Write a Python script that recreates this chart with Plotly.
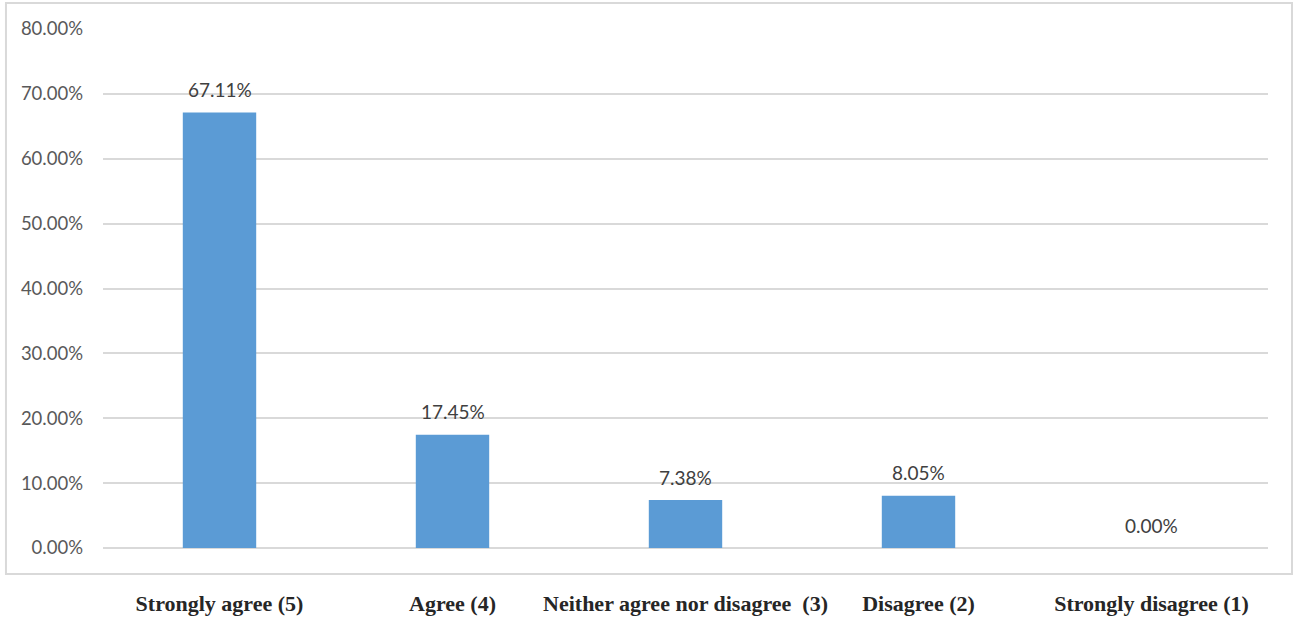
import plotly.graph_objects as go

categories = ["Strongly agree (5)", "Agree (4)", "Neither agree nor disagree  (3)",
              "Disagree (2)", "Strongly disagree (1)"]
values = [67.11, 17.45, 7.38, 8.05, 0.00]
y_ticks = [0, 10, 20, 30, 40, 50, 60, 70, 80]
y_tick_labels = [f"{v:.2f}%" for v in y_ticks]

fig = go.Figure()
fig.add_trace(go.Bar(
    x=categories, y=values,
    marker=dict(color="#5b9bd5", line=dict(width=0)),
    width=0.315,
    hoverinfo="skip",
))

for c, v in zip(categories, values):
    fig.add_annotation(x=c, y=v, text=f"{v:.2f}%", showarrow=False,
                       yanchor="middle", yshift=23,
                       font=dict(family="Lato", size=19, color="#404040"))

fig.add_shape(type="rect", xref="paper", yref="paper",
              x0=-0.0833, x1=1.0206, y0=-0.0501, y1=1.050,
              line=dict(color="#d9d9d9", width=2), fillcolor="rgba(0,0,0,0)",
              layer="below")

fig.update_layout(
    width=1298, height=619,
    margin=dict(l=103, r=30, t=29, b=71),
    paper_bgcolor="white", plot_bgcolor="white",
    showlegend=False,
    xaxis=dict(
        showgrid=False, showline=False, zeroline=False, ticks="",
        ticklabelstandoff=40, automargin=False,
        tickfont=dict(family="Liberation Serif", size=22, color="#262626", weight="bold"),
        range=[-0.5, 4.5],
    ),
    yaxis=dict(
        range=[0, 80], tickvals=y_ticks, ticktext=y_tick_labels,
        showgrid=True, gridcolor="#d9d9d9", gridwidth=1.5,
        zeroline=True, zerolinecolor="#d9d9d9", zerolinewidth=1.5,
        showline=False, ticks="", ticklabelstandoff=19, automargin=False,
        tickfont=dict(family="Lato", size=18.5, color="#595959"),
    ),
)

fig.write_html("out.html", config={"displayModeBar": False},
               post_script="document.body.style.margin='0px';document.body.style.overflow='hidden';")
